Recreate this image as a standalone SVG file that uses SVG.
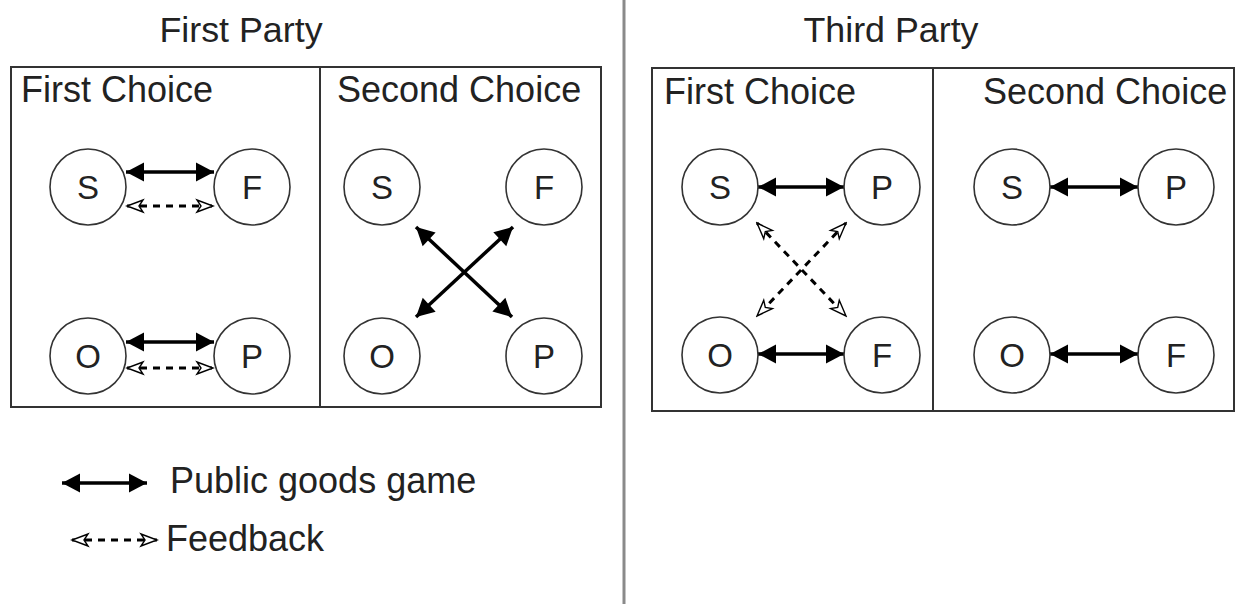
<svg xmlns="http://www.w3.org/2000/svg" width="1241" height="604" viewBox="0 0 1241 604">
  <style>
    .title { font-family: "Liberation Sans", Arial, sans-serif; font-size: 35.8px; fill: #222; }
    .lbl { font-family: "Liberation Sans", Arial, sans-serif; font-size: 36px; fill: #222; }
    .node circle { fill: #fff; stroke: #333; stroke-width: 1.6; }
    .node text { font-family: "Liberation Sans", Arial, sans-serif; font-size: 33px; fill: #222; text-anchor: middle; }
    .frame { fill: none; stroke: #333; stroke-width: 2; }
    .game { stroke: #000; stroke-width: 3.5; fill: none; marker-start: url(#headSolid); marker-end: url(#headSolid); }
    .feedback { stroke: #000; stroke-width: 3; fill: none; stroke-dasharray: 7 6; marker-start: url(#headOpen); marker-end: url(#headOpen); }
  </style>
  <defs>
    <marker id="headSolid" markerUnits="userSpaceOnUse" markerWidth="22" markerHeight="24" viewBox="0 0 22 24" refX="20" refY="12" orient="auto-start-reverse">
      <path d="M2,2.5 L20,12 L2,21.5 Z" fill="#000"/>
    </marker>
    <marker id="headOpen" markerUnits="userSpaceOnUse" markerWidth="20" markerHeight="16" viewBox="0 0 20 16" refX="18" refY="8" orient="auto-start-reverse">
      <path d="M2,2 L18,8 L2,14 L6,8 Z" fill="#fff" stroke="#000" stroke-width="1.4" stroke-linejoin="miter"/>
    </marker>
  </defs>

  <rect width="1241" height="604" fill="#fff"/>

  <!-- separator between the two parties -->
  <line x1="624" y1="0" x2="624" y2="604" stroke="#8a8a8a" stroke-width="3"/>

  <!-- First Party panel -->
  <text class="title" x="241" y="42" text-anchor="middle">First Party</text>
  <rect class="frame" x="11" y="67" width="590" height="340"/>
  <line class="frame" x1="320" y1="67" x2="320" y2="407"/>
  <text class="lbl" x="21" y="102">First Choice</text>
  <text class="lbl" x="337" y="102">Second Choice</text>

  <!-- Third Party panel -->
  <text class="title" x="891" y="42" text-anchor="middle">Third Party</text>
  <rect class="frame" x="652" y="68" width="582" height="343"/>
  <line class="frame" x1="933" y1="68" x2="933" y2="411"/>
  <text class="lbl" x="664" y="104">First Choice</text>
  <text class="lbl" x="983" y="104">Second Choice</text>

  <!-- connectors -->
  <g id="connectors">
    <!-- first party, first choice -->
    <line class="game" x1="126" y1="172" x2="214" y2="172"/>
    <line class="feedback" x1="127" y1="206" x2="213" y2="206"/>
    <line class="game" x1="126" y1="342" x2="214" y2="342"/>
    <line class="feedback" x1="127" y1="368" x2="213" y2="368"/>
    <!-- first party, second choice -->
    <line class="game" x1="416" y1="227" x2="512" y2="317"/>
    <line class="game" x1="513" y1="227" x2="416" y2="317"/>
    <!-- third party, first choice -->
    <line class="game" x1="758" y1="187" x2="844" y2="187"/>
    <line class="game" x1="758" y1="354" x2="844" y2="354"/>
    <line class="feedback" x1="757" y1="223" x2="846" y2="316"/>
    <line class="feedback" x1="846" y1="223" x2="757" y2="316"/>
    <!-- third party, second choice -->
    <line class="game" x1="1050" y1="187" x2="1138" y2="187"/>
    <line class="game" x1="1050" y1="354" x2="1138" y2="354"/>
    <!-- legend -->
    <line class="game" x1="62" y1="483" x2="147" y2="483"/>
    <line class="feedback" x1="72" y1="540" x2="157" y2="540"/>
  </g>

  <!-- nodes: first party, first choice -->
  <g id="fp1-S" class="node"><circle cx="88" cy="187" r="38"/><text x="88" y="199">S</text></g>
  <g id="fp1-F" class="node"><circle cx="252" cy="187" r="38"/><text x="252" y="199">F</text></g>
  <g id="fp1-O" class="node"><circle cx="88" cy="356" r="38"/><text x="88" y="368">O</text></g>
  <g id="fp1-P" class="node"><circle cx="252" cy="356" r="38"/><text x="252" y="368">P</text></g>

  <!-- nodes: first party, second choice -->
  <g id="fp2-S" class="node"><circle cx="382" cy="187" r="38"/><text x="382" y="199">S</text></g>
  <g id="fp2-F" class="node"><circle cx="544" cy="187" r="38"/><text x="544" y="199">F</text></g>
  <g id="fp2-O" class="node"><circle cx="382" cy="356" r="38"/><text x="382" y="368">O</text></g>
  <g id="fp2-P" class="node"><circle cx="544" cy="356" r="38"/><text x="544" y="368">P</text></g>

  <!-- nodes: third party, first choice -->
  <g id="tp1-S" class="node"><circle cx="720" cy="187" r="38"/><text x="720" y="199">S</text></g>
  <g id="tp1-P" class="node"><circle cx="882" cy="187" r="38"/><text x="882" y="199">P</text></g>
  <g id="tp1-O" class="node"><circle cx="720" cy="355" r="38"/><text x="720" y="367">O</text></g>
  <g id="tp1-F" class="node"><circle cx="882" cy="355" r="38"/><text x="882" y="367">F</text></g>

  <!-- nodes: third party, second choice -->
  <g id="tp2-S" class="node"><circle cx="1012" cy="187" r="38"/><text x="1012" y="199">S</text></g>
  <g id="tp2-P" class="node"><circle cx="1176" cy="187" r="38"/><text x="1176" y="199">P</text></g>
  <g id="tp2-O" class="node"><circle cx="1012" cy="355" r="38"/><text x="1012" y="367">O</text></g>
  <g id="tp2-F" class="node"><circle cx="1176" cy="355" r="38"/><text x="1176" y="367">F</text></g>

  <!-- legend -->
  <text class="lbl" x="170" y="493">Public goods game</text>
  <text class="lbl" x="166" y="551">Feedback</text>
</svg>
